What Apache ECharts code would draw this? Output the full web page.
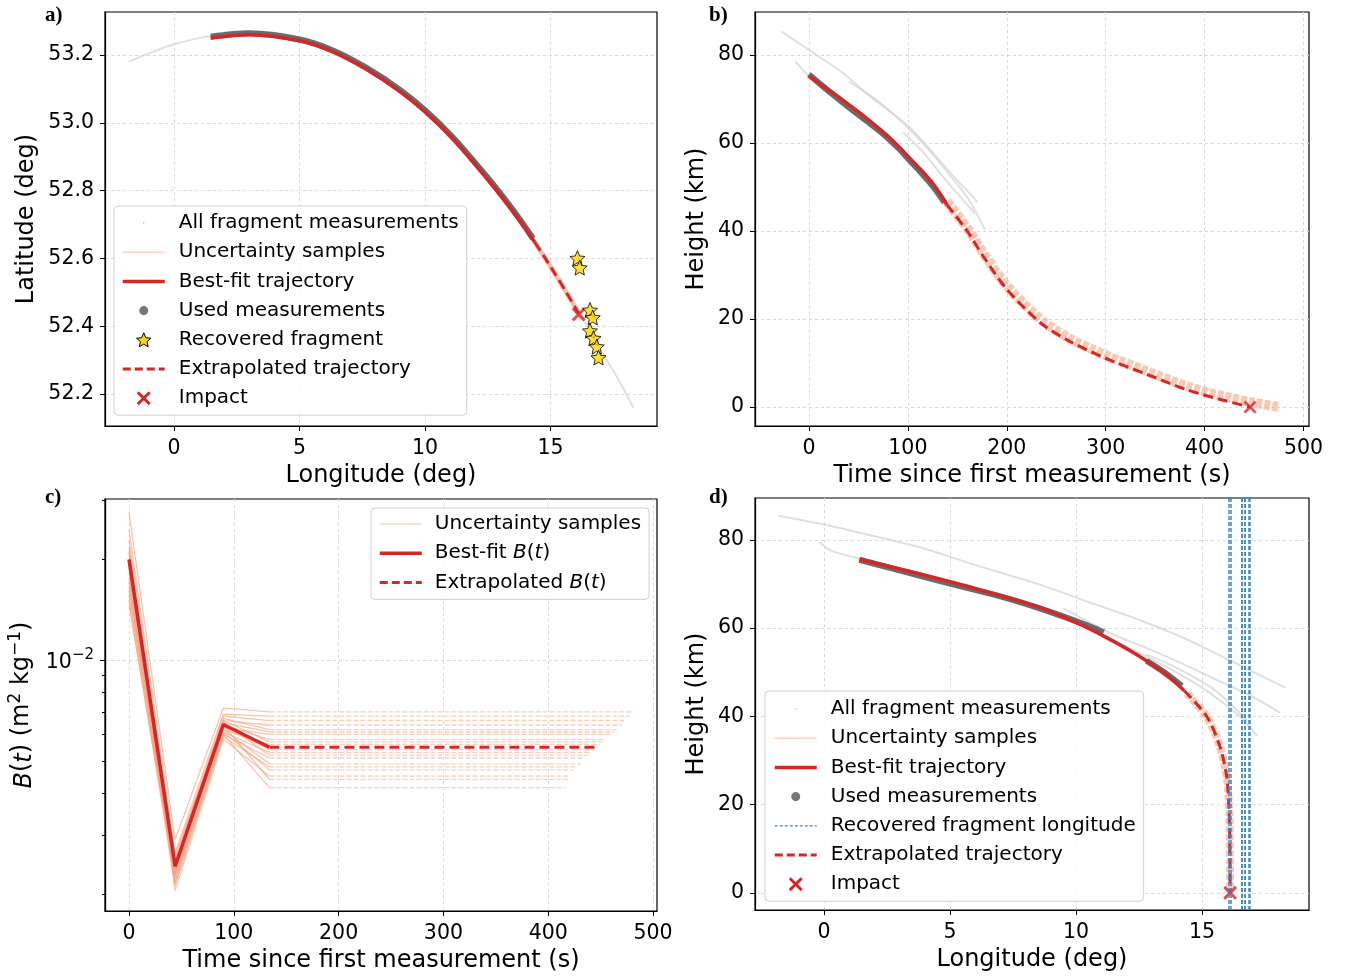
<!DOCTYPE html>
<html>
<head>
<meta charset="utf-8">
<script src="https://cdn.jsdelivr.net/npm/echarts@6/dist/echarts.min.js"></script>
<style>
  html, body { margin: 0; padding: 0; background: #fff; }
  #main { width: 1347px; height: 980px; }
</style>
</head>
<body>
<div id="main"></div>
<script>
// ---- panel a: longitude / latitude ----
var fragA1 = [[-1.8,53.18],[-1.0,53.205],[0,53.232],[1.0,53.25],[1.5,53.256],[3,53.265],[5,53.247],[7,53.18],[9,53.097],[11,52.962],[13,52.79],[14.5,52.635],[15.5,52.51],[16.3,52.42],[17.0,52.33],[17.8,52.23],[18.3,52.16]];
var fragA2 = [[16.4,52.425],[17.0,52.42]];
var fragA3 = [[2.0,53.267],[4.0,53.262],[6.0,53.225],[8.0,53.146],[10.0,53.04],[12.0,52.885],[13.5,52.745],[14.6,52.63]];
var usedA = [[1.46,53.254],[3.0,53.264],[5.0,53.246],[6.35,53.213],[7.67,53.162],[9.0,53.097],[10.0,53.037],[11.12,52.956],[12.45,52.842],[13.11,52.781],[13.77,52.716],[14.3,52.659]];
var bestA = [[1.46,53.25],[3.0,53.26],[5.0,53.242],[6.35,53.209],[7.67,53.158],[9.0,53.093],[10.0,53.033],[11.12,52.952],[12.45,52.838],[13.11,52.777],[13.77,52.712],[14.37,52.648]];
var extrapA = [[14.37,52.648],[14.76,52.604],[15.11,52.563],[15.6,52.504],[16.12,52.438]];
var uncertA = [[14.37,52.648],[14.76,52.604],[15.11,52.563],[15.7,52.492],[16.25,52.422]];
var starLon = [16.07, 16.16, 16.57, 16.68, 16.57, 16.71, 16.84, 16.91];
var starLat = [52.601, 52.573, 52.448, 52.426, 52.387, 52.365, 52.34, 52.308];
var impactLon = 16.12, impactLat = 52.435, impactTime = 446;

// ---- panel b: time / height ----
var fragB1 = [[-28,85.4],[0,81.2],[18,78.5],[35,75.8],[58,71.3],[80,67.5],[99,64.2],[115,60.5],[133,55.8],[150,51.5],[167,47.5],[170,46.5]];
var fragB2 = [[-14,78.6],[-3,75.9],[12,73.0],[40,68.0],[75,61.8],[100,56.0],[120,51.0],[140,45.5],[155,42.0],[172,37.5]];
var fragB3 = [[40,74.0],[70,69.5],[100,63.5],[125,57.5],[145,52],[162,47],[178,40.3]];
var fragB4 = [[95,62.5],[115,58],[135,52.5],[150,48.5],[168,44]];
var usedB = [[0,75.6],[12,73.3],[25,70.9],[40,68.2],[58,65.1],[75,62.1],[92,58.5],[100,56.5],[113,53.4],[126,50.0],[137,46.5]];
var bestB = [[0,75.3],[12,73.3],[25,71.3],[40,68.8],[58,65.7],[75,62.5],[92,58.9],[100,57],[113,54],[126,50.6],[139.5,46]];
var extrapB = [[139.5,46],[160,40],[177,34],[200,26.8],[235,19],[265,14.8],[300,11.1],[340,7.6],[384,3.8],[420,1.5],[446,0]];
var uncertB = [[139.5,46.7],[160,40.7],[177,34.8],[200,27.6],[235,19.8],[265,15.4],[300,11.8],[340,8.3],[384,4.6],[420,2.4],[450,1.0],[476,0]];

// ---- panel c: ballistic coefficient ----
var bTimes = [0, 44, 90, 134];
var bBest = [0.0200, 0.00242, 0.00642, 0.00549];
var bExtrapEnd = 446;
var sB0 = [0.0276,0.0245,0.0228,0.0218,0.0210,0.0204,0.0198,0.0192,0.0187,0.0182,0.0176,0.0171,0.0166,0.0161,0.0156,0.0151,0.0146,0.0213,0.0195,0.0172];
var sB1 = [0.00291,0.00265,0.00255,0.00248,0.00244,0.00238,0.00250,0.00232,0.00240,0.00228,0.00236,0.00222,0.00245,0.00218,0.00230,0.00212,0.00226,0.00205,0.00262,0.00215];
var sB2 = [0.0072,0.0069,0.0068,0.0066,0.0067,0.0065,0.0063,0.0064,0.0066,0.0062,0.0063,0.0061,0.0065,0.0060,0.0062,0.0059,0.0061,0.0058,0.0064,0.0060];
var sB3 = [0.0070,0.0068,0.0066,0.0064,0.0062,0.0061,0.0060,0.0058,0.0057,0.0056,0.0054,0.0053,0.0052,0.0051,0.0049,0.0048,0.0047,0.0045,0.0044,0.00416];
var sEnd = [481,478,474,470,466,463,460,455,452,449,444,441,438,435,431,428,424,421,419,416];

// ---- panel d: longitude / height ----
var fragD1 = [[-1.8,85.5],[0,83.5],[2.4,80.3],[4,78],[5.9,74.5],[8.6,69.8],[10.6,65.7],[12.5,61.9],[14.3,57.7],[16,53],[18.3,46.5]];
var fragD2 = [[-0.2,79.5],[0.3,77.5],[1.4,75.8],[4,72],[7,67.3],[9.5,62.8],[11,58.6],[12,55.8],[13.5,51.5],[15,46.5],[16.5,40],[17.2,35.5]];
var fragD3 = [[9.5,64.5],[11.5,58.5],[12.5,56.2],[14,52.5],[15.5,48.5],[17,44.5],[18.1,40.8]];
var fragD4 = [[12.8,54],[14,51],[15.5,46],[16.8,39]];
var usedD1 = [[1.4,75.5],[3,73.1],[5,70.1],[7,67.2],[8.5,64.6],[10,61.6],[10.8,59.8],[11.1,59.0]];
var usedD2 = [[12.8,52.6],[13.5,50.0],[14.2,46.9]];
var bestD = [[1.41,75.6],[3.3,73],[5.87,69.2],[8.5,64.8],[10,61.3],[11.2,57.9],[12.5,53.7],[13.6,49.4],[14.3,45.8]];
var extrapD = [[14.3,45.8],[15.19,40],[15.71,33.2],[15.98,26.4],[16.08,18.1],[16.11,8],[16.12,0]];
var uncertD = [[14.4,45.2],[15.2,39.8],[15.72,33],[15.99,26],[16.09,18],[16.11,8],[16.12,0]];

var tickLon = [0, 5, 10, 15];
var tickLat = [52.2, 52.4, 52.6, 52.8, 53.0, 53.2];
var tickTime = [0, 100, 200, 300, 400, 500];
var tickHeight = [0, 20, 40, 60, 80];
var tickBMajor = [0.01];
var tickBMinor = [0.002,0.003,0.004,0.005,0.006,0.007,0.008,0.009,0.02,0.03];

var RED = '#d62728', GRAYL = '#d3d3d3', GRAYD = '#6b6b6b', SALMON = '#f4a582', BLUE = '#3a88c8';
var FONT = 'DejaVu Sans';

var chart = echarts.init(document.getElementById('main'), null, { renderer: 'canvas' });

function xAx(gi, min, max, ticks, name) {
  return {
    type: 'value', gridIndex: gi, min: min, max: max, name: name,
    nameLocation: 'middle', nameGap: 38,
    nameTextStyle: { fontFamily: FONT, fontSize: 24, color: '#000' },
    axisLine: { show: true, onZero: false, lineStyle: { color: '#000', width: 1.2 } },
    axisTick: { show: true, length: 5, customValues: ticks, lineStyle: { color: '#000' } },
    axisLabel: { customValues: ticks, margin: 12, fontFamily: FONT, fontSize: 20.5, color: '#000' },
    splitLine: { show: true, lineStyle: { color: '#d9d9d9', type: [3, 3], width: 1 } }
  };
}
function yAx(gi, min, max, ticks, name, gap, fmt) {
  return {
    type: 'value', gridIndex: gi, min: min, max: max, name: name,
    nameLocation: 'middle', nameGap: gap,
    nameTextStyle: { fontFamily: FONT, fontSize: 24, color: '#000' },
    axisLine: { show: true, onZero: false, lineStyle: { color: '#000', width: 1.2 } },
    axisTick: { show: true, length: 5, customValues: ticks, lineStyle: { color: '#000' } },
    axisLabel: { customValues: ticks, margin: 11, fontFamily: FONT, fontSize: 20.5, color: '#000', formatter: fmt },
    splitLine: { show: true, lineStyle: { color: '#d9d9d9', type: [3, 3], width: 1 } }
  };
}

function line(name, gi, data, color, width, extra) {
  var s = {
    type: 'line', name: name, xAxisIndex: gi, yAxisIndex: gi, data: data,
    symbol: 'none', smooth: false, silent: true, animation: false,
    itemStyle: { color: color },
    lineStyle: { color: color, width: width }
  };
  if (extra) {
    for (var k in extra) {
      if (k === 'lineStyle') { for (var j in extra.lineStyle) s.lineStyle[j] = extra.lineStyle[j]; }
      else s[k] = extra[k];
    }
  }
  return s;
}

var starPath = 'path://M10,0 L12.9,6.9 L20,7.6 L14.6,12.4 L16.2,19.5 L10,15.8 L3.8,19.5 L5.4,12.4 L0,7.6 L7.1,6.9 Z';
var crossPath = 'path://M0,3 L3,0 L10,7 L17,0 L20,3 L13,10 L20,17 L17,20 L10,13 L3,20 L0,17 L7,10 Z';
var dotIcon = 'path://M0,0h0.01v0.01zM20,20h0.01v0.01zM9,9h2v2h-2z';
var circIcon = 'path://M0,0h0.01v0.01zM20,20h0.01v0.01zM3.5,10a6.5,6.5 0 1,0 13,0a6.5,6.5 0 1,0 -13,0z';

var series = [];
// panel a
[fragA1, fragA2, fragA3].forEach(function (f) {
  series.push(line('All fragment measurements', 0, f, GRAYL, 2, { smooth: 0.3, lineStyle: { opacity: 0.7 } }));
});
series.push(line('Uncertainty samples', 0, uncertA, SALMON, 5, { smooth: 0.3, lineStyle: { opacity: 0.6 } }));
series.push(line('Used measurements', 0, usedA, GRAYD, 6, { smooth: 0.3 }));
series.push(line('Best-fit trajectory', 0, bestA, RED, 3.5, { smooth: 0.3 }));
series.push(line('Extrapolated trajectory', 0, extrapA, RED, 3, { smooth: 0.3, lineStyle: { type: [10, 5] } }));
series.push({
  type: 'scatter', name: 'Recovered fragment', xAxisIndex: 0, yAxisIndex: 0, silent: true, animation: false,
  symbol: starPath, symbolSize: 15, z: 5,
  itemStyle: { color: '#ffd700', borderColor: '#000', borderWidth: 1 },
  data: starLon.map(function (v, i) { return [v, starLat[i]]; })
});
series.push({
  type: 'scatter', name: 'Impact', xAxisIndex: 0, yAxisIndex: 0, silent: true, animation: false,
  symbol: crossPath, symbolSize: 14, z: 4, itemStyle: { color: RED },
  data: [[impactLon, impactLat]]
});

// panel b
[fragB1, fragB2, fragB3, fragB4].forEach(function (f) {
  series.push(line('All fragment measurements', 1, f, GRAYL, 2, { smooth: 0.3, lineStyle: { opacity: 0.7 } }));
});
series.push(line('Uncertainty samples', 1, uncertB, SALMON, 10, { smooth: 0.3, lineStyle: { opacity: 0.6, type: [6, 2] } }));
series.push(line('Used measurements', 1, usedB, GRAYD, 6, { smooth: 0.3 }));
series.push(line('Best-fit trajectory', 1, bestB, RED, 3.5, { smooth: 0.3 }));
series.push(line('Extrapolated trajectory', 1, extrapB, RED, 3, { smooth: 0.3, lineStyle: { type: [10, 5] } }));
series.push({
  type: 'scatter', name: 'Impact', xAxisIndex: 1, yAxisIndex: 1, silent: true, animation: false,
  symbol: crossPath, symbolSize: 13, z: 4, itemStyle: { color: RED },
  data: [[impactTime, 0]]
});

// panel c
for (var i = 0; i < sB0.length; i++) {
  var cols = [sB0[i], sB1[i], sB2[i], sB3[i]];
  series.push(line('Uncertainty samples', 2, bTimes.map(function (t, k) { return [t, cols[k]]; }), SALMON, 1.3, { lineStyle: { opacity: 0.65 } }));
  series.push(line('Uncertainty samples', 2, [[bTimes[3], sB3[i]], [sEnd[i], sB3[i]]], SALMON, 1.3, { lineStyle: { opacity: 0.55, type: [5, 2] } }));
}
series.push(line('Best-fit B(t)', 2, bTimes.map(function (t, k) { return [t, bBest[k]]; }), RED, 3.5));
series.push(line('Extrapolated B(t)', 2, [[bTimes[3], bBest[3]], [bExtrapEnd, bBest[3]]], RED, 3, { lineStyle: { type: [10, 5] } }));

// panel d
[fragD1, fragD2, fragD3, fragD4].forEach(function (f) {
  series.push(line('All fragment measurements', 3, f, GRAYL, 2, { smooth: 0.3, lineStyle: { opacity: 0.7 } }));
});
series.push(line('Uncertainty samples', 3, uncertD, SALMON, 8, { smooth: 0.3, lineStyle: { opacity: 0.6, type: [6, 2] } }));
series.push(line('Used measurements', 3, usedD1, GRAYD, 6, { smooth: 0.3 }));
series.push(line('Used measurements', 3, usedD2, GRAYD, 6, { smooth: 0.3 }));
series.push(line('Best-fit trajectory', 3, bestD, RED, 3.5, { smooth: 0.3 }));
series.push(line('Extrapolated trajectory', 3, extrapD, RED, 3, { smooth: 0.3, lineStyle: { type: [10, 5] } }));
series.push(line('Recovered fragment longitude', 3, [], BLUE, 1.5, {
  lineStyle: { type: [4, 2] },
  markLine: {
    silent: true, symbol: 'none', label: { show: false }, animation: false,
    lineStyle: { color: BLUE, width: 1.5, type: [4, 2] },
    data: starLon.map(function (v) { return { xAxis: v }; })
  }
}));
series.push({
  type: 'scatter', name: 'Impact', xAxisIndex: 3, yAxisIndex: 3, silent: true, animation: false,
  symbol: crossPath, symbolSize: 14, z: 4, itemStyle: { color: RED },
  data: [[impactLon, 0]]
});

var hideSym = { opacity: 0, borderWidth: 0 };
function legendItems() {
  return {
    frag: { name: 'All fragment measurements', icon: dotIcon, itemStyle: { color: '#c8c8c8', borderWidth: 0, opacity: 1 } },
    unc: { name: 'Uncertainty samples', itemStyle: hideSym, lineStyle: { color: '#fbd3c4', width: 1.5, type: 'solid', opacity: 1 } },
    best: { name: 'Best-fit trajectory', itemStyle: hideSym, lineStyle: { color: RED, width: 3.5, type: 'solid', opacity: 1 } },
    used: { name: 'Used measurements', icon: circIcon, itemStyle: { color: '#777', borderWidth: 0, opacity: 1 } },
    star: { name: 'Recovered fragment', icon: starPath, itemStyle: { color: '#ffd700', borderColor: '#000', borderWidth: 1, opacity: 1 } },
    blue: { name: 'Recovered fragment longitude', itemStyle: hideSym, lineStyle: { color: BLUE, width: 1.2, type: [3, 2], opacity: 1 } },
    ext: { name: 'Extrapolated trajectory', itemStyle: hideSym, lineStyle: { color: RED, width: 3, type: [8, 4], opacity: 1 } },
    imp: { name: 'Impact', icon: crossPath, itemStyle: { color: RED, borderWidth: 0, opacity: 1 } }
  };
}
var LA = legendItems(), LD = legendItems();
function legendBox(left, top, padding, textPad, items) {
  var base = { fontFamily: FONT, fontSize: 20, color: '#000', lineHeight: 22 };
  return {
    orient: 'vertical', left: left, top: top, padding: padding,
    itemWidth: 42, itemHeight: 14, itemGap: 7.2, selectedMode: false,
    backgroundColor: 'rgba(255,255,255,0.85)', borderColor: '#d0d0d0', borderWidth: 1, borderRadius: 4,
    textStyle: {
      fontFamily: FONT, fontSize: 20, color: '#000', lineHeight: 22, padding: [0, 0, 0, textPad],
      rich: {
        n: base,
        i: { fontFamily: FONT, fontSize: 20, color: '#000', lineHeight: 22, fontStyle: 'italic' }
      }
    },
    formatter: function (name) {
      if (name.indexOf('B(t)') >= 0) {
        return '{n|' + name.replace(' B(t)', ' ') + '}{i|B}{n|(}{i|t}{n|)}';
      }
      return name;
    },
    data: items
  };
}

var titleStyle = { fontFamily: 'Liberation Serif', fontWeight: 'bold', fontSize: 21, color: '#000' };
var option = {
  animation: false,
  backgroundColor: '#fff',
  title: [
    { text: 'a)', left: 40, top: 0, textStyle: titleStyle },
    { text: 'b)', left: 704, top: 0, textStyle: titleStyle },
    { text: 'c)', left: 40, top: 482, textStyle: titleStyle },
    { text: 'd)', left: 704, top: 482, textStyle: titleStyle }
  ],
  grid: [
    { left: 105, top: 12, width: 552, height: 414, show: true, borderColor: '#000', borderWidth: 1.2 },
    { left: 755, top: 12, width: 554, height: 414, show: true, borderColor: '#000', borderWidth: 1.2 },
    { left: 105, top: 499, width: 552, height: 412, show: true, borderColor: '#000', borderWidth: 1.2 },
    { left: 755, top: 498, width: 554, height: 412, show: true, borderColor: '#000', borderWidth: 1.2 }
  ],
  xAxis: [
    xAx(0, -2.75, 19.24, tickLon, 'Longitude (deg)'),
    xAx(1, -54.6, 505.6, tickTime, 'Time since first measurement (s)'),
    xAx(2, -22.9, 503.8, tickTime, 'Time since first measurement (s)'),
    xAx(3, -2.74, 19.25, tickLon, 'Longitude (deg)')
  ],
  yAxis: [
    yAx(0, 52.106, 53.327, tickLat, 'Latitude (deg)', 66, function (v) { return v.toFixed(1); }),
    yAx(1, -4.3, 89.8, tickHeight, 'Height (km)', 46),
    {
      type: 'log', logBase: 10, gridIndex: 2, min: 0.00178, max: 0.0303, position: 'left',
      name: '{i|B}({i|t}) (m{s|2} kg{s|−1})', nameLocation: 'middle', nameGap: 68,
      nameTextStyle: {
        fontFamily: FONT, fontSize: 24, color: '#000', lineHeight: 30,
        rich: {
          i: { fontFamily: FONT, fontSize: 24, color: '#000', fontStyle: 'italic', lineHeight: 30, verticalAlign: 'bottom' },
          s: { fontFamily: FONT, fontSize: 17, color: '#000', lineHeight: 30, verticalAlign: 'top' }
        }
      },
      axisLine: { show: true, onZero: false, lineStyle: { color: '#000', width: 1.2 } },
      axisTick: { show: true, length: 5, customValues: tickBMajor, lineStyle: { color: '#000' } },
      axisLabel: {
        customValues: tickBMajor, margin: 11, color: '#000',
        formatter: function () { return '{b|10}{s|−2}'; },
        rich: {
          b: { fontFamily: FONT, fontSize: 20.5, color: '#000', lineHeight: 26, verticalAlign: 'bottom' },
          s: { fontFamily: FONT, fontSize: 15, color: '#000', lineHeight: 26, verticalAlign: 'top' }
        }
      },
      splitLine: { show: true, lineStyle: { color: '#d9d9d9', type: [3, 3], width: 1 } }
    },
    yAx(3, -3.9, 89.5, tickHeight, 'Height (km)', 46),
    {
      type: 'log', logBase: 10, gridIndex: 2, min: 0.00178, max: 0.0303, position: 'left', offset: 0,
      axisLine: { show: true, onZero: false, lineStyle: { color: '#000', width: 1.2 } },
      axisTick: { show: true, length: 3, customValues: tickBMinor, lineStyle: { color: '#000', width: 1 } },
      axisLabel: { show: false },
      splitLine: { show: false }
    }
  ],
  legend: [
    legendBox(114, 206, [6, 8, 6, 7], 9, [LA.frag, LA.unc, LA.best, LA.used, LA.star, LA.ext, LA.imp]),
    legendBox(371, 508, [5, 8, 6, 7], 8, [
      { name: 'Uncertainty samples', itemStyle: hideSym, lineStyle: { color: '#fbd3c4', width: 1.5, type: 'solid', opacity: 1 } },
      { name: 'Best-fit B(t)', itemStyle: hideSym, lineStyle: { color: RED, width: 3.5, type: 'solid', opacity: 1 } },
      { name: 'Extrapolated B(t)', itemStyle: hideSym, lineStyle: { color: RED, width: 3, type: [8, 4], opacity: 1 } }
    ]),
    legendBox(765, 691, [7, 8, 6, 8], 9, [LD.frag, LD.unc, LD.best, LD.used, LD.blue, LD.ext, LD.imp])
  ],
  series: series
};
chart.setOption(option);
</script>
</body>
</html>
